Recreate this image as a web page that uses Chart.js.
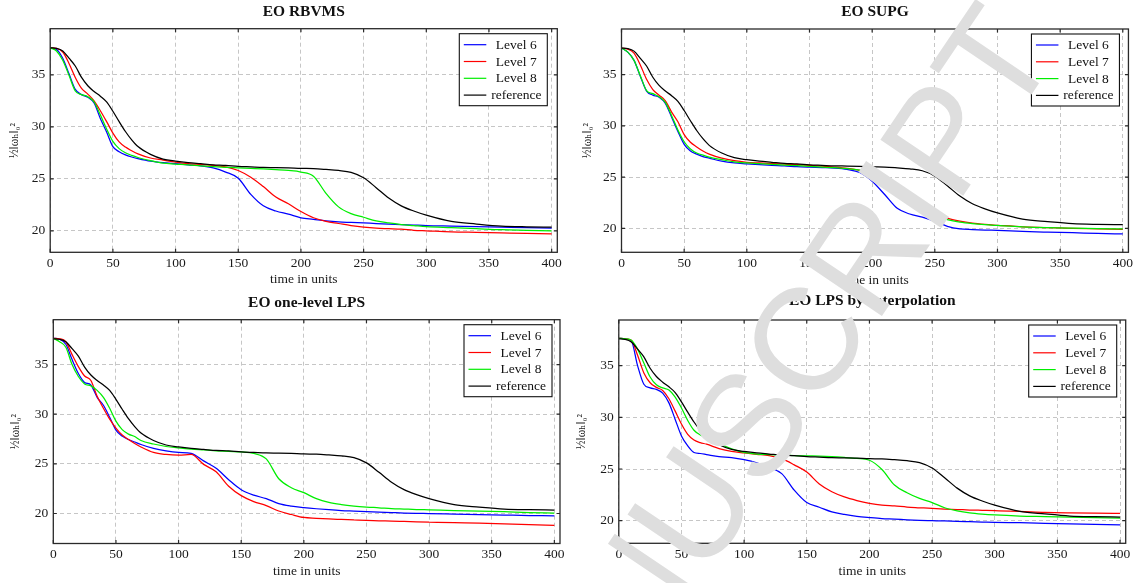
<!DOCTYPE html>
<html><head><meta charset="utf-8">
<script src="https://cdn.jsdelivr.net/npm/chart.js@4.4.1/dist/chart.umd.min.js"></script>
<style>
html,body{margin:0;padding:0;background:#fff;}
#wrap{position:relative;width:1136px;height:583px;overflow:hidden;background:#fff;}
.pane{position:absolute;}
#wm{position:absolute;left:0;top:0;pointer-events:none;}
</style></head><body>
<div id="wrap">
<div class="pane" style="left:0;top:0;"><canvas id="c1" width="568" height="290"></canvas></div>
<div class="pane" style="left:568px;top:0;"><canvas id="c2" width="568" height="290"></canvas></div>
<div class="pane" style="left:0;top:290px;"><canvas id="c3" width="568" height="293"></canvas></div>
<div class="pane" style="left:568px;top:290px;"><canvas id="c4" width="568" height="293"></canvas></div>
<canvas id="wm" width="1136" height="583"></canvas>
</div>
<script>
// ---------- data ----------
const times = [0,5,10,15,20,25,30,35,40,45,50,55,60,65,70,80,90,100,110,120,130,140,150,160,170,180,190,200,210,220,230,240,250,260,270,280,290,300,320,340,360,380,400];
const xTickValues = [0,50,100,150,200,250,300,350,400];
const yTickValues = [20,25,30,35];
const seriesLabels = ['Level 6','Level 7','Level 8','reference'];
const seriesColors = ['#0000ff','#ff0000','#00ee00','#000000'];
const panelTitles = ['EO RBVMS','EO SUPG','EO one-level LPS','EO LPS by Interpolation'];
const xAxisTitle = 'time in units';
const yAxisTitle = '½‖ωₕ‖₀²';

const reference = [37.6,37.55,37.3,36.6,35.85,34.75,33.95,33.4,32.95,32.4,31.5,30.5,29.55,28.75,28.1,27.35,26.9,26.7,26.55,26.45,26.35,26.3,26.2,26.15,26.1,26.08,26.05,26.0,25.98,25.9,25.8,25.62,25.1,24.15,23.15,22.4,21.9,21.5,20.9,20.65,20.45,20.38,20.35];

const rbvmsL6 = [37.6,37.45,36.6,35.1,33.6,33.1,32.85,32.3,30.8,29.5,28.1,27.6,27.3,27.1,26.95,26.7,26.55,26.45,26.35,26.25,26.05,25.65,25.05,23.5,22.4,21.9,21.6,21.25,21.1,20.95,20.85,20.8,20.75,20.7,20.65,20.6,20.55,20.5,20.45,20.4,20.35,20.3,20.25];
const rbvmsL7 = [37.6,37.55,37.2,36.1,34.75,33.7,33.15,32.5,31.55,30.5,29.4,28.55,28.05,27.7,27.4,27.0,26.8,26.6,26.45,26.4,26.3,26.15,25.8,25.15,24.25,23.25,22.6,21.85,21.25,20.9,20.7,20.5,20.35,20.25,20.2,20.15,20.05,20.0,19.9,19.85,19.8,19.75,19.7];
const rbvmsL8 = [37.6,37.3,36.4,34.95,33.45,33.1,32.9,32.4,31.15,29.8,28.6,27.9,27.5,27.25,27.05,26.75,26.5,26.42,26.35,26.25,26.17,26.1,26.05,26.0,25.95,25.88,25.8,25.65,25.25,23.6,22.3,21.65,21.3,20.95,20.75,20.6,20.5,20.4,20.3,20.2,20.1,20.05,20.0];

const supgL6 = [37.6,37.2,36.4,34.85,33.4,33.0,32.8,32.2,30.85,29.45,28.2,27.55,27.25,27.0,26.85,26.55,26.38,26.3,26.22,26.15,26.1,26.02,25.97,25.93,25.88,25.75,25.45,24.6,23.3,21.95,21.4,21.1,20.7,20.2,19.95,19.88,19.83,19.8,19.7,19.63,19.57,19.5,19.45];
const supgL7 = [37.6,37.5,37.1,35.95,34.55,33.55,33.0,32.45,31.35,30.4,29.15,28.4,27.95,27.55,27.25,26.85,26.6,26.45,26.38,26.32,26.27,26.22,26.15,26.08,25.98,25.85,25.65,25.3,24.4,23.35,22.5,21.85,21.5,21.0,20.7,20.5,20.38,20.3,20.15,20.08,20.0,19.95,19.9];
const supgL8 = [37.6,37.2,36.4,34.9,33.45,33.15,32.85,32.3,31.0,29.6,28.45,27.75,27.35,27.15,26.95,26.7,26.48,26.38,26.32,26.25,26.18,26.12,26.05,25.98,25.92,25.82,25.68,25.48,24.65,23.5,22.55,21.85,21.25,20.85,20.6,20.45,20.35,20.28,20.15,20.07,20.02,19.98,19.95];

const lps1L6 = [37.65,37.55,37.05,35.5,34.1,33.2,32.95,31.7,30.9,29.7,28.4,27.8,27.45,27.2,26.95,26.55,26.3,26.15,26.05,25.3,24.55,23.4,22.4,21.85,21.5,21.0,20.75,20.6,20.48,20.38,20.3,20.25,20.2,20.15,20.1,20.05,20.02,20.0,19.95,19.9,19.85,19.8,19.75];
const lps1L7 = [37.65,37.6,37.3,36.0,34.8,33.85,33.4,31.8,30.6,29.5,28.6,27.9,27.45,27.05,26.7,26.15,25.95,25.88,25.95,24.95,24.2,22.75,21.8,21.2,20.8,20.25,19.9,19.6,19.52,19.45,19.4,19.35,19.3,19.27,19.23,19.2,19.17,19.14,19.08,19.03,18.95,18.87,18.8];
const lps1L8 = [37.65,37.3,36.75,35.0,33.8,33.05,32.85,32.4,31.7,30.6,29.3,28.45,28.0,27.75,27.35,27.0,26.75,26.6,26.48,26.4,26.32,26.25,26.2,26.05,25.5,23.5,22.6,22.1,21.5,21.12,20.9,20.75,20.65,20.58,20.5,20.45,20.4,20.37,20.3,20.25,20.18,20.1,20.05];

const lpsiL6 = [37.65,37.6,37.4,35.0,33.2,32.85,32.7,32.35,31.4,29.8,28.2,27.25,26.6,26.5,26.4,26.2,26.1,25.9,25.6,25.15,24.55,22.95,21.75,21.3,20.85,20.6,20.42,20.3,20.2,20.15,20.08,20.03,20.0,19.97,19.93,19.9,19.87,19.84,19.8,19.75,19.7,19.65,19.6];
const lpsiL7 = [37.65,37.6,37.45,36.0,34.3,33.35,32.9,32.6,31.8,30.6,29.35,28.35,27.8,27.55,27.4,26.98,26.7,26.55,26.42,26.3,26.0,25.4,24.7,23.55,22.8,22.3,21.95,21.68,21.5,21.42,21.32,21.25,21.18,21.12,21.08,21.03,21.0,20.97,20.9,20.8,20.75,20.72,20.7];
const lpsiL8 = [37.65,37.6,37.45,36.6,35.25,33.9,33.15,32.85,32.65,31.95,30.9,29.7,28.75,28.3,28.05,27.45,26.95,26.6,26.45,26.4,26.35,26.3,26.27,26.25,26.2,26.12,26.02,25.85,24.95,23.45,22.7,22.15,21.75,21.25,20.95,20.75,20.63,20.55,20.45,20.4,20.35,20.3,20.25];

// ---------- styling / layout ----------
const SERIF = '"Liberation Serif", "DejaVu Serif", serif';
Chart.defaults.font.family = SERIF;
Chart.defaults.color = '#1a1a1a';

const framePlugin = {
  id: 'frame',
  afterDatasetsDraw(chart) {
    const {ctx, chartArea: a, scales} = chart;
    ctx.save();
    ctx.strokeStyle = '#2a2a2a';
    ctx.lineWidth = 1.2;
    ctx.beginPath();
    const tl = 3.5;
    xTickValues.forEach(v => {
      const px = scales.x.getPixelForValue(v);
      ctx.moveTo(px, a.bottom); ctx.lineTo(px, a.bottom - tl);
      ctx.moveTo(px, a.top); ctx.lineTo(px, a.top + tl);
    });
    yTickValues.forEach(v => {
      const py = scales.y.getPixelForValue(v);
      ctx.moveTo(a.left, py); ctx.lineTo(a.left + tl, py);
      ctx.moveTo(a.right, py); ctx.lineTo(a.right - tl, py);
    });
    ctx.stroke();
    ctx.lineWidth = 1.3;
    ctx.strokeRect(a.left, a.top, a.right - a.left, a.bottom - a.top);
    ctx.restore();
  }
};

const legendPlugin = {
  id: 'boxLegend',
  afterDatasetsDraw(chart, args, opts) {
    const {ctx, chartArea: a} = chart;
    const w = 88, h = 72;
    const x = a.right - opts.inset - w, y = a.top + 5;
    ctx.save();
    ctx.fillStyle = '#fff';
    ctx.fillRect(x, y, w, h);
    ctx.strokeStyle = '#111';
    ctx.lineWidth = 1.1;
    ctx.strokeRect(x, y, w, h);
    chart.data.datasets.forEach((ds, i) => {
      const cy = y + 11 + i * 16.8;
      ctx.strokeStyle = ds.borderColor;
      ctx.lineWidth = 1.2;
      ctx.beginPath(); ctx.moveTo(x + 4.5, cy); ctx.lineTo(x + 27, cy); ctx.stroke();
      ctx.fillStyle = '#111';
      ctx.font = '13.5px ' + SERIF;
      ctx.textAlign = 'center';
      ctx.textBaseline = 'middle';
      ctx.fillText(ds.label, x + 57, cy + 0.5);
    });
    ctx.restore();
  }
};

const titlePlugin = {
  id: 'panelTitle',
  afterDraw(chart, args, opts) {
    const {ctx, chartArea: a} = chart;
    ctx.save();
    ctx.fillStyle = '#111';
    ctx.font = 'bold 15.5px ' + SERIF;
    ctx.textAlign = 'center';
    ctx.textBaseline = 'middle';
    ctx.fillText(opts.text, (a.left + a.right) / 2, opts.y);
    ctx.restore();
  }
};

function makePanel(id, title, series, g) {
  const datasets = series.map((vals, i) => ({
    label: seriesLabels[i],
    data: times.map((t, j) => ({x: t, y: vals[j]})),
    borderColor: seriesColors[i],
    borderWidth: 1.25,
    pointRadius: 0,
    fill: false,
    cubicInterpolationMode: 'monotone',
    order: 4 - i
  }));
  const gridOpts = {color: '#b8b8b8', lineWidth: 0.8, drawTicks: false};
  const borderOpts = {display: false, dash: [4, 3]};
  new Chart(document.getElementById(id), {
    type: 'line',
    data: {datasets},
    plugins: [framePlugin, legendPlugin, titlePlugin],
    options: {
      responsive: false,
      animation: false,
      devicePixelRatio: 1,
      layout: {padding: {left: 0, top: g.top, right: g.padRight, bottom: g.padBottom}},
      plugins: {
        legend: {display: false},
        tooltip: {enabled: false},
        title: {display: false},
        boxLegend: {inset: g.legInset},
        panelTitle: {text: title, y: g.titleY}
      },
      scales: {
        x: {
          type: 'linear', min: 0, max: 404.5,
          afterBuildTicks: s => { s.ticks = xTickValues.map(v => ({value: v})); },
          afterFit: s => { s.height = g.xAxisH; },
          grid: gridOpts, border: borderOpts,
          ticks: {padding: 3, font: {size: 13.5}, color: '#1a1a1a', autoSkip: false, maxRotation: 0},
          title: {display: true, text: xAxisTitle, padding: 0, font: {size: 13.5, lineHeight: 1.2}, color: '#1a1a1a'}
        },
        y: {
          type: 'linear', min: g.yMin, max: g.yMax,
          afterBuildTicks: s => { s.ticks = yTickValues.map(v => ({value: v})); },
          afterFit: s => { s.width = g.yAxisW; },
          grid: gridOpts, border: borderOpts,
          ticks: {padding: 5, font: {size: 13.5}, color: '#1a1a1a', autoSkip: false},
          title: {display: true, text: yAxisTitle, padding: 0, font: {size: 11.5, lineHeight: (2 * g.yTitleX) / 11.5}, color: '#1a1a1a'}
        }
      }
    }
  });
}

makePanel('c1', panelTitles[0], [rbvmsL6, rbvmsL7, rbvmsL8, reference],
  {top: 28.7, padRight: 10.7, padBottom: 2.2, xAxisH: 35.5, yAxisW: 50.2, yMin: 17.93, yMax: 39.44, titleY: 11.7, yTitleX: 14.6, legInset: 10});
makePanel('c2', panelTitles[1], [supgL6, supgL7, supgL8, reference],
  {top: 29, padRight: 7, padBottom: 1.9, xAxisH: 35.8, yAxisW: 53.5, yMin: 17.66, yMax: 39.46, titleY: 11.7, yTitleX: 20, legInset: 9});
makePanel('c3', panelTitles[2], [lps1L6, lps1L7, lps1L8, reference],
  {top: 29.7, padRight: 8, padBottom: 3.9, xAxisH: 35.6, yAxisW: 53.3, yMin: 16.98, yMax: 39.52, titleY: 12.7, yTitleX: 16.4, legInset: 8});
makePanel('c4', panelTitles[3], [lpsiL6, lpsiL7, lpsiL8, reference],
  {top: 30, padRight: 10.3, padBottom: 3.9, xAxisH: 35.8, yAxisW: 50.8, yMin: 17.81, yMax: 39.42, titleY: 10.7, yTitleX: 14.4, legInset: 9});

// ---------- watermark ----------
(function () {
  const c = document.getElementById('wm').getContext('2d');
  c.save();
  c.translate(1060, 52);
  c.rotate(-56 * Math.PI / 180);
  c.font = '145px "Liberation Sans", Arial, sans-serif';
  c.fillStyle = '#dedede';
  c.textAlign = 'right';
  c.textBaseline = 'alphabetic';
  c.fillText('ACCEPTED MANUSCRIPT', 0, 0);
  c.restore();
})();
</script>
</body></html>
